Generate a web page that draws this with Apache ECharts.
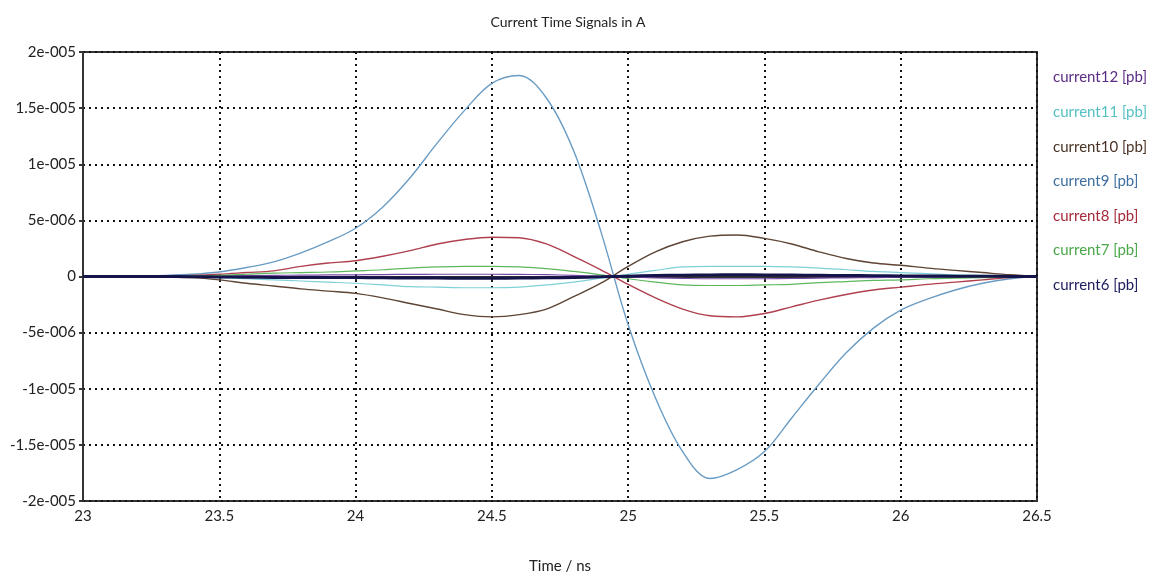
<!DOCTYPE html>
<html>
<head>
<meta charset="utf-8">
<title>Current Time Signals in A</title>
<script src="https://cdn.jsdelivr.net/npm/echarts@6/dist/echarts.min.js"></script>
<style>
  html, body { margin: 0; padding: 0; background: #fff; }
  #chart { width: 1161px; height: 583px; }
</style>
</head>
<body>
<div id="chart"></div>
<script>
// time axis in ns, values in µA (1e-6 A)
const times = [23.0, 23.1, 23.2, 23.3, 23.4, 23.5, 23.6, 23.7, 23.8, 23.9,
  24.0, 24.1, 24.2, 24.3, 24.4, 24.5, 24.6, 24.7, 24.8, 24.9,
  25.0, 25.1, 25.2, 25.3, 25.4, 25.5, 25.6, 25.7, 25.8, 25.9,
  26.0, 26.1, 26.2, 26.3, 26.4, 26.5]

const current12 = [0, 0, 0, 0, 0.02, 0.05, 0.08, 0.1, 0.12, 0.14,
  0.15, 0.17, 0.19, 0.2, 0.2, 0.2, 0.19, 0.16, 0.1, 0.03,
  -0.05, -0.12, -0.17, -0.2, -0.2, -0.2, -0.18, -0.15, -0.12, -0.1,
  -0.08, -0.06, -0.04, -0.02, -0.01, 0]
const current11 = [0, 0, 0, 0, -0.05, -0.1, -0.2, -0.3, -0.4, -0.5,
  -0.6, -0.75, -0.9, -0.95, -1.0, -1.0, -0.95, -0.75, -0.5, -0.15,
  0.2, 0.55, 0.85, 0.9, 0.9, 0.9, 0.85, 0.75, 0.6, 0.45,
  0.35, 0.25, 0.15, 0.1, 0.05, 0]
const current10 = [0, 0, 0, -0.05, -0.1, -0.3, -0.6, -0.85, -1.1, -1.3,
  -1.5, -1.9, -2.4, -2.9, -3.4, -3.6, -3.4, -2.9, -1.8, -0.6,
  0.9, 2.2, 3.1, 3.6, 3.7, 3.4, 2.9, 2.2, 1.6, 1.2,
  1.0, 0.75, 0.55, 0.35, 0.15, 0]
const current9 = [0, 0, 0.05, 0.1, 0.2, 0.4, 0.8, 1.3, 2.1, 3.1,
  4.3, 6.2, 8.8, 11.9, 14.8, 17.2, 17.9, 15.9, 11.2, 4.0,
  -4.3, -10.8, -15.6, -18.0, -17.2, -15.6, -12.6, -9.6, -6.8, -4.6,
  -3.0, -2.0, -1.2, -0.6, -0.2, 0]
const current8 = [0, 0, 0, 0.05, 0.1, 0.2, 0.35, 0.5, 0.9, 1.2,
  1.4, 1.8, 2.3, 2.9, 3.3, 3.5, 3.45, 2.9, 1.8, 0.6,
  -0.7, -1.9, -2.9, -3.5, -3.6, -3.3, -2.7, -2.1, -1.6, -1.2,
  -0.95, -0.7, -0.5, -0.3, -0.1, 0]
const current7 = [0, 0, 0, 0, 0.05, 0.1, 0.2, 0.3, 0.35, 0.4,
  0.5, 0.6, 0.75, 0.85, 0.9, 0.9, 0.85, 0.7, 0.45, 0.15,
  -0.2, -0.5, -0.75, -0.8, -0.8, -0.75, -0.7, -0.55, -0.45, -0.35,
  -0.3, -0.2, -0.15, -0.1, -0.05, 0]
const current6 = [0, 0, 0, 0, -0.02, -0.04, -0.06, -0.08, -0.09, -0.1,
  -0.1, -0.12, -0.13, -0.14, -0.15, -0.15, -0.14, -0.12, -0.08, -0.03,
  0.03, 0.08, 0.12, 0.14, 0.15, 0.14, 0.13, 0.11, 0.09, 0.07,
  0.05, 0.04, 0.03, 0.02, 0.01, 0]

const xTicks = { min: 23, max: 26.5, step: 0.5 }
const yTicks = { min: -20, max: 20, step: 5 }

const FONT = 'Lato, "Open Sans", sans-serif'

// name, values, line colour, legend text colour, width
const seriesDefs = [
  ['current12 [pb]', current12, '#7a4aa8', '#5b2c83', 1.2],
  ['current11 [pb]', current11, '#7fd0d8', '#55c0c4', 1.2],
  ['current10 [pb]', current10, '#5e4535', '#4a3326', 1.4],
  ['current9 [pb]', current9, '#6a9cc4', '#3f6f9f', 1.4],
  ['current8 [pb]', current8, '#b04050', '#a52a3a', 1.4],
  ['current7 [pb]', current7, '#5cb85c', '#4aa84a', 1.2],
  ['current6 [pb]', current6, '#14144a', '#1c1c5c', 3]
]

// y labels in the old "2e-005" style, the axis itself runs in µA
function expLabel (v) {
  if (v === 0) return '0'
  let m = v
  let e = 6
  if (Math.abs(v) >= 10) {
    m = v / 10
    e = 5
  }
  return m + 'e-00' + e
}

const chart = echarts.init(document.getElementById('chart'), null, { renderer: 'canvas' })

chart.setOption({
  animation: false,
  backgroundColor: '#fff',
  title: {
    text: 'Current Time Signals in A',
    left: 563,
    top: 10,
    textAlign: 'center',
    textStyle: { fontFamily: FONT, fontSize: 14, fontWeight: 'normal', color: '#222' }
  },
  legend: {
    orient: 'vertical',
    left: 1043,
    top: 65,
    icon: 'none',
    itemWidth: 0,
    itemHeight: 14,
    itemGap: 19.6,
    selectedMode: false,
    textStyle: { fontFamily: FONT, fontSize: 15, padding: 0 },
    data: seriesDefs.map(d => ({ name: d[0], textStyle: { color: d[3] } }))
  },
  grid: {
    left: 83,
    right: 124,
    top: 52,
    bottom: 82,
    show: true,
    borderColor: '#333',
    borderWidth: 2
  },
  xAxis: {
    type: 'value',
    min: xTicks.min,
    max: xTicks.max,
    interval: xTicks.step,
    name: 'Time / ns',
    nameLocation: 'middle',
    nameGap: 58,
    nameTextStyle: { fontFamily: FONT, fontSize: 15, color: '#222' },
    axisLine: { lineStyle: { color: '#333', width: 2 } },
    axisTick: { length: 4, lineStyle: { color: '#333', width: 2 } },
    axisLabel: { fontFamily: FONT, fontSize: 15, color: '#222', margin: 8 },
    splitLine: { lineStyle: { color: '#111', width: 2, type: [2, 4] } }
  },
  yAxis: {
    type: 'value',
    min: yTicks.min,
    max: yTicks.max,
    interval: yTicks.step,
    axisLine: { show: true, lineStyle: { color: '#333', width: 2 } },
    axisTick: { show: true, length: 4, lineStyle: { color: '#333', width: 2 } },
    axisLabel: { fontFamily: FONT, fontSize: 15, color: '#222', margin: 7, formatter: expLabel },
    splitLine: { lineStyle: { color: '#111', width: 2, type: [2, 4] } }
  },
  series: seriesDefs.map(d => ({
    name: d[0],
    type: 'line',
    data: times.map((t, i) => [t, d[1][i]]),
    smooth: 0.35,
    showSymbol: false,
    color: d[2],
    lineStyle: { color: d[2], width: d[4] }
  }))
})
</script>
</body>
</html>
